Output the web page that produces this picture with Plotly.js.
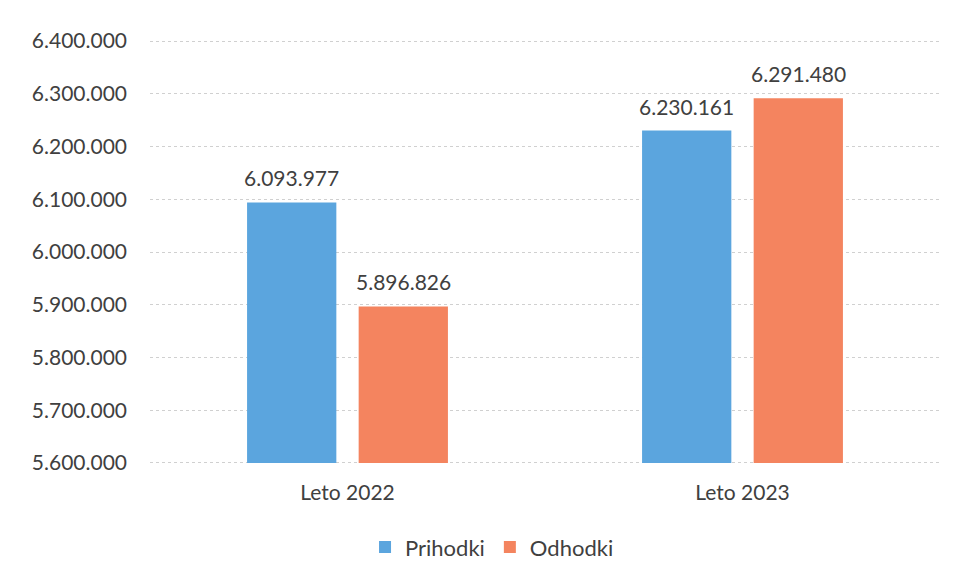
<!DOCTYPE html>
<html>
<head>
<meta charset="utf-8">
<script src="https://cdn.plot.ly/plotly-3.0.1.min.js"></script>
<style>html,body{margin:0;padding:0;background:#fff;}#chart{width:961px;height:576px;}</style>
</head>
<body>
<div id="chart"></div>
<script>
const categories = ["Leto 2022", "Leto 2023"];
const seriesNames = ["Prihodki", "Odhodki"];
const prihodki = [6093977, 6230161];
const odhodki = [5896826, 6291480];
const tickValues = [5600000, 5700000, 5800000, 5900000, 6000000, 6100000, 6200000, 6300000, 6400000];

const font = "Lato, 'Open Sans', sans-serif";
const textColor = "#404040";
const colors = ["#5ba5de", "#f4845f"];
const seriesValues = [prihodki, odhodki];
const seriesShift = [-56, 56];

const traces = seriesValues.map((vals, i) => ({
  type: "bar", name: seriesNames[i], x: categories, y: vals,
  base: tickValues[0],
  marker: {color: colors[i]}, hoverinfo: "none"
}));
traces.forEach((t, i) => { t.y = seriesValues[i].map(v => v - tickValues[0]); });

const fmt = v => String(v).replace(/\B(?=(\d{3})+(?!\d))/g, ".");
const annotations = [];
seriesValues.forEach((vals, i) => {
  vals.forEach((v, j) => {
    annotations.push({x: categories[j], y: v, xref: "x", yref: "y", text: fmt(v),
      showarrow: false, xshift: seriesShift[i], yshift: 10, yanchor: "bottom",
      font: {size: 21, color: textColor, family: font}});
  });
});

const layout = {
  width: 961, height: 576,
  margin: {l: 150, r: 21, t: 40, b: 112},
  paper_bgcolor: "#ffffff", plot_bgcolor: "#ffffff",
  separators: ",.",
  barmode: "group", bargap: 0.435, bargroupgap: 0.2,
  font: {family: font, color: textColor, size: 20},
  showlegend: true,
  legend: {orientation: "h", x: 0.512, xanchor: "center", xref: "container",
           y: 0.05, yanchor: "middle", yref: "container",
           font: {size: 22, color: textColor, family: font}},
  annotations: annotations,
  xaxis: {showgrid: false, showline: false, zeroline: false, ticks: "",
          ticklabelstandoff: 14,
          tickfont: {size: 21, color: textColor, family: font}},
  yaxis: {range: [5598000, 6402000], tickvals: tickValues, tickformat: ",d",
          showgrid: true, gridcolor: "#d0d0d0", griddash: "dot", zeroline: false,
          showline: false, ticks: "", ticklabelstandoff: 22,
          tickfont: {size: 21, color: textColor, family: font}}
};

Plotly.newPlot("chart", traces, layout, {staticPlot: true, displayModeBar: false});
</script>
</body>
</html>
